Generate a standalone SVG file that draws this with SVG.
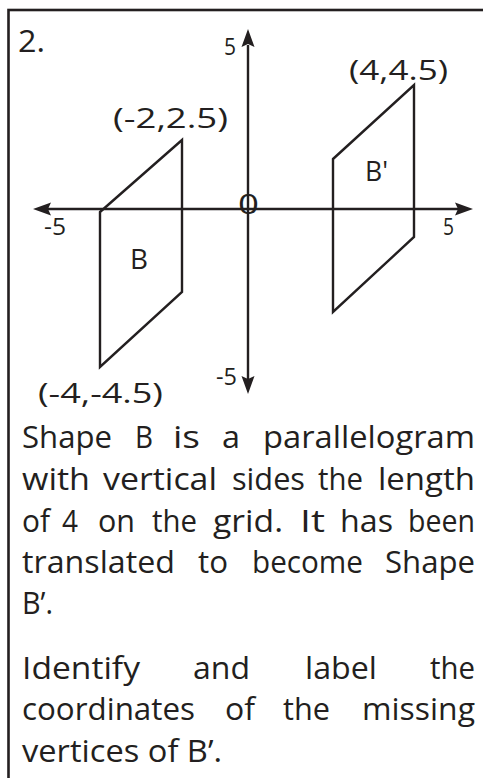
<svg xmlns="http://www.w3.org/2000/svg" width="483" height="778" viewBox="0 0 483 778">
<style>
.ln{fill:none;stroke:#231f20;stroke-width:2.4;stroke-linejoin:miter}
.ax{fill:none;stroke:#231f20;stroke-width:2.4}
.hd{fill:#231f20;stroke:none}
.lb{font-family:"Open Sans","Noto Sans",sans-serif;fill:#231f20}
.p{font-family:"Open Sans","Noto Sans",sans-serif;font-size:31px;fill:#231f20}
</style>
<rect width="483" height="778" fill="#ffffff"/>
<rect id="frame" x="8.5" y="10" width="500" height="800" fill="none" stroke="#231f20" stroke-width="2.6"/>
<text id="num" class="lb" x="18" y="52" font-size="31" textLength="27" lengthAdjust="spacingAndGlyphs">2.</text>
<g id="axes">
<line class="ax" x1="48" y1="209" x2="458" y2="209"/>
<line class="ax" x1="248" y1="45" x2="248" y2="379"/>
<polygon class="hd" points="33,209 51,202.5 48,209 51,215.5"/>
<polygon class="hd" points="473,209 455,202.5 458,209 455,215.5"/>
<polygon class="hd" points="248,29 241.5,47 248,44 254.5,47"/>
<polygon class="hd" points="248,394 241.5,376 248,379 254.5,376"/>
</g>
<g id="axis-labels" class="lb" font-size="23">
<text x="224" y="55" textLength="12" lengthAdjust="spacingAndGlyphs">5</text>
<text x="44" y="235" textLength="22" lengthAdjust="spacingAndGlyphs">-5</text>
<text x="443" y="235" textLength="11" lengthAdjust="spacingAndGlyphs">5</text>
<text x="216" y="385" textLength="21" lengthAdjust="spacingAndGlyphs">-5</text>
<text x="238" y="213.5" font-size="27" textLength="21" lengthAdjust="spacingAndGlyphs">0</text>
</g>
<g id="shape-B">
<polygon class="ln" points="100,212 182,140 182,292 100,367"/>
<text class="lb" x="130" y="269" font-size="27" textLength="18" lengthAdjust="spacingAndGlyphs">B</text>
</g>
<g id="shape-B-prime">
<polygon class="ln" points="333,159 414,85 414,237 333,312"/>
<text class="lb" x="365" y="181" font-size="27" textLength="23" lengthAdjust="spacingAndGlyphs">B'</text>
</g>
<g id="coord-labels" class="lb" font-size="27">
<text x="113" y="128" textLength="115" lengthAdjust="spacingAndGlyphs">(-2,2.5)</text>
<text x="349" y="80" textLength="99" lengthAdjust="spacingAndGlyphs">(4,4.5)</text>
<text x="38" y="403" textLength="125" lengthAdjust="spacingAndGlyphs">(-4,-4.5)</text>
</g>
<g id="paragraph">
<text class="p" text-anchor="middle" y="448"><tspan x="67" textLength="90" lengthAdjust="spacingAndGlyphs">Shape</tspan><tspan x="144" textLength="18" lengthAdjust="spacingAndGlyphs">B</tspan><tspan x="186.5" textLength="27" lengthAdjust="spacingAndGlyphs">is</tspan><tspan x="231" textLength="18" lengthAdjust="spacingAndGlyphs">a</tspan><tspan x="369" textLength="212" lengthAdjust="spacingAndGlyphs">parallelogram</tspan></text>
<text class="p" text-anchor="middle" y="490"><tspan x="56" textLength="68" lengthAdjust="spacingAndGlyphs">with</tspan><tspan x="160" textLength="114" lengthAdjust="spacingAndGlyphs">vertical</tspan><tspan x="268.5" textLength="73" lengthAdjust="spacingAndGlyphs">sides</tspan><tspan x="340.5" textLength="45" lengthAdjust="spacingAndGlyphs">the</tspan><tspan x="426.5" textLength="97" lengthAdjust="spacingAndGlyphs">length</tspan></text>
<text class="p" text-anchor="middle" y="532"><tspan x="36" textLength="28" lengthAdjust="spacingAndGlyphs">of</tspan><tspan x="70" textLength="16" lengthAdjust="spacingAndGlyphs">4</tspan><tspan x="116.5" textLength="37" lengthAdjust="spacingAndGlyphs">on</tspan><tspan x="174.5" textLength="45" lengthAdjust="spacingAndGlyphs">the</tspan><tspan x="248" textLength="70" lengthAdjust="spacingAndGlyphs">grid.</tspan><tspan x="312.5" textLength="25" lengthAdjust="spacingAndGlyphs">It</tspan><tspan x="366.5" textLength="53" lengthAdjust="spacingAndGlyphs">has</tspan><tspan x="441.5" textLength="67" lengthAdjust="spacingAndGlyphs">been</tspan></text>
<text class="p" text-anchor="middle" y="573"><tspan x="98.5" textLength="153" lengthAdjust="spacingAndGlyphs">translated</tspan><tspan x="213" textLength="30" lengthAdjust="spacingAndGlyphs">to</tspan><tspan x="307.5" textLength="111" lengthAdjust="spacingAndGlyphs">become</tspan><tspan x="430" textLength="90" lengthAdjust="spacingAndGlyphs">Shape</tspan></text>
<text class="p" x="22" y="614" textLength="31" lengthAdjust="spacingAndGlyphs">B’.</text>
<text class="p" text-anchor="middle" y="679"><tspan x="81" textLength="118" lengthAdjust="spacingAndGlyphs">Identify</tspan><tspan x="221.5" textLength="57" lengthAdjust="spacingAndGlyphs">and</tspan><tspan x="341" textLength="72" lengthAdjust="spacingAndGlyphs">label</tspan><tspan x="452.5" textLength="45" lengthAdjust="spacingAndGlyphs">the</tspan></text>
<text class="p" text-anchor="middle" y="720"><tspan x="108.5" textLength="173" lengthAdjust="spacingAndGlyphs">coordinates</tspan><tspan x="240" textLength="30" lengthAdjust="spacingAndGlyphs">of</tspan><tspan x="306.5" textLength="47" lengthAdjust="spacingAndGlyphs">the</tspan><tspan x="418.5" textLength="113" lengthAdjust="spacingAndGlyphs">missing</tspan></text>
<text class="p" x="22" y="762" textLength="200" lengthAdjust="spacingAndGlyphs">vertices of B’.</text>
</g>
</svg>
